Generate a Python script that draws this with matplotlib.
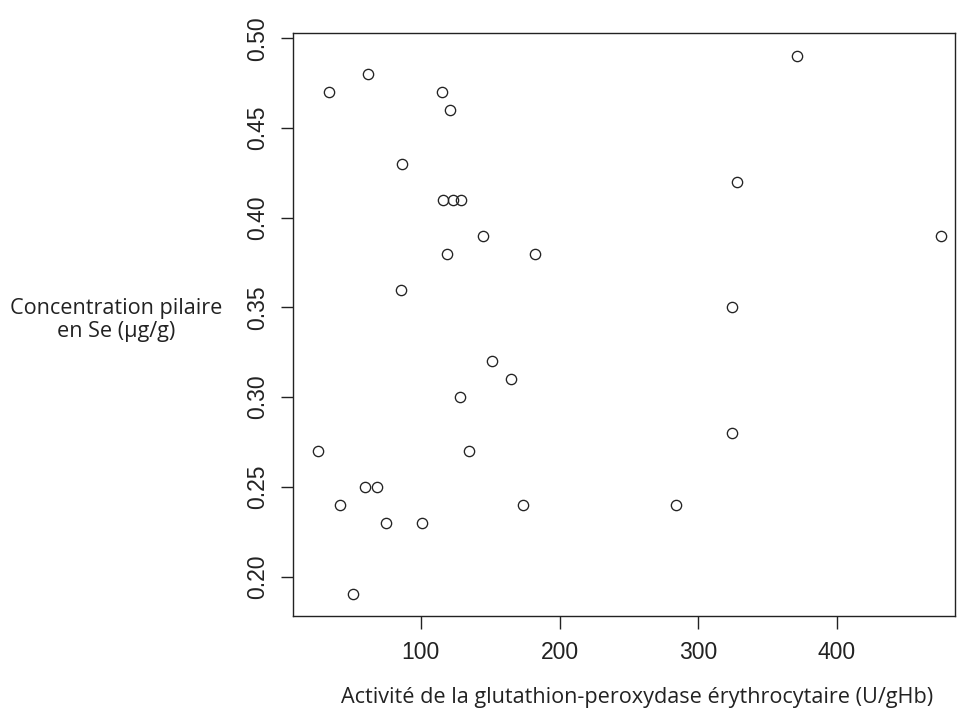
import numpy as np
import matplotlib.pyplot as plt

# glutathion-peroxydase activity (U/gHb) vs hair Se concentration (ug/g)
gpx = [34, 62, 115, 121, 86.5, 116, 123, 129, 145, 119, 182, 86,
       371, 328, 475, 324, 151, 165, 128, 135, 26, 324, 42, 60,
       68.5, 75, 101, 174, 284, 51]
se = [0.47, 0.48, 0.47, 0.46, 0.43, 0.41, 0.41, 0.41, 0.39, 0.38, 0.38, 0.36,
      0.49, 0.42, 0.39, 0.35, 0.32, 0.31, 0.30, 0.27, 0.27, 0.28, 0.24, 0.25,
      0.25, 0.23, 0.23, 0.24, 0.24, 0.19]

xticks = [100, 200, 300, 400]
yticks = [0.20, 0.25, 0.30, 0.35, 0.40, 0.45, 0.50]

W, H = 958, 716
fig = plt.figure(figsize=(W / 100, H / 100), dpi=100)
ax = fig.add_axes([293 / W, 1 - 616 / H, (955 - 293) / W, (616 - 33) / H])

ax.plot(gpx, se, linestyle='none', marker='o', markersize=7.4,
        markerfacecolor='none', markeredgecolor='#222222', markeredgewidth=0.95)

ax.set_xlim(7.9, 485)
ax.set_ylim(0.178, 0.503)
ax.set_xticks(xticks)
ax.set_xticklabels([str(t) for t in xticks])
ax.set_yticks(yticks)
ax.set_yticklabels(['%.2f' % t for t in yticks], rotation=90, va='center')

for s in ax.spines.values():
    s.set_linewidth(1.0)
    s.set_color('#222222')

ax.tick_params(axis='both', length=9, width=1.0, color='#222222',
               labelsize=16.5, labelcolor='#222222')
ax.tick_params(axis='x', pad=9)
ax.tick_params(axis='y', pad=8)
for lab in ax.get_xticklabels() + ax.get_yticklabels():
    lab.set_family('Liberation Sans')

fig.text(637 / W, 1 - 697 / H,
         'Activité de la glutathion-peroxydase érythrocytaire (U/gHb)',
         ha='center', va='center', fontsize=15.6, family='Open Sans', color='#222222')
fig.text(116 / W, 1 - 320 / H, 'Concentration pilaire\nen Se (µg/g)',
         ha='center', va='center', fontsize=15.6, family='Open Sans', color='#222222',
         linespacing=1.1)

fig.savefig('out.png', dpi=100)
